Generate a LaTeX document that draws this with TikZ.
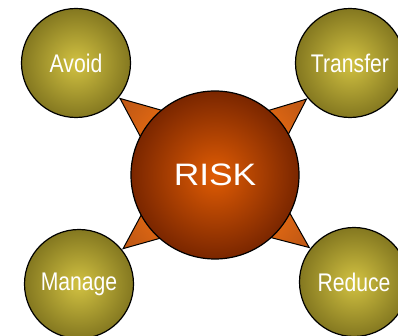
\documentclass[tikz,border=0pt]{standalone}
\usepackage{fontspec}
\setmainfont{Liberation Sans}
\usetikzlibrary{calc}
\definecolor{olivein}{RGB}{210,194,66}
\definecolor{oliveout}{RGB}{132,120,32}
\definecolor{riskin}{RGB}{224,92,4}
\definecolor{riskout}{RGB}{122,38,0}
\definecolor{wedgebright}{RGB}{246,114,16}
\definecolor{wedgedark}{RGB}{196,90,20}
\tikzset{
  smallball/.style={circle, draw=black, line width=1.2pt, minimum size=109pt, inner sep=0pt,
    inner color=olivein, outer color=oliveout, text=white,
    font=\fontsize{25.5}{25.5}\selectfont},
  bigball/.style={circle, draw=black, line width=1.2pt, minimum size=168pt, inner sep=0pt,
    inner color=riskin, outer color=riskout, text=white,
    font=\fontsize{31}{31}\selectfont},
  wedge/.style={draw=black, line width=1pt, line join=miter,
    top color=wedgedark, bottom color=wedgebright}
}
\begin{document}
\begin{tikzpicture}[x=1pt,y=-1pt]
\useasboundingbox (0,0) rectangle (398,336);
% centres
\coordinate (cR) at (215,175);
\coordinate (cA) at (76,63);
\coordinate (cT) at (350,63);
\coordinate (cM) at (79,284);
\coordinate (cD) at (354,282);
% wedges (drawn first, behind the balls)
\foreach \c/\ang in {cA/51,cT/-50,cM/129,cD/-128}{
  \coordinate (tip\c) at ($(\c)!56.5pt!(cR)$);
  \coordinate (b1\c) at ($(tip\c)!60pt!23:(cR)$);
  \coordinate (b2\c) at ($(tip\c)!60pt!-23:(cR)$);
  \draw[wedge, shading angle=\ang] (tip\c) -- (b1\c) -- (b2\c) -- cycle;
}
\node[bigball] (R) at (cR) {\scalebox{1.14}[1]{RISK}};
\node[smallball] (A) at (cA) {\raisebox{-1pt}{\scalebox{0.83}[1]{Avoid}}};
\node[smallball] (T) at (cT) {\raisebox{-1pt}{\scalebox{0.83}[1]{Transfer}}};
\node[smallball] (M) at (cM) {\raisebox{-1pt}{\scalebox{0.83}[1]{Manage}}};
\node[smallball] (D) at (cD) {\raisebox{-1pt}{\scalebox{0.83}[1]{Reduce}}};
\end{tikzpicture}
\end{document}
